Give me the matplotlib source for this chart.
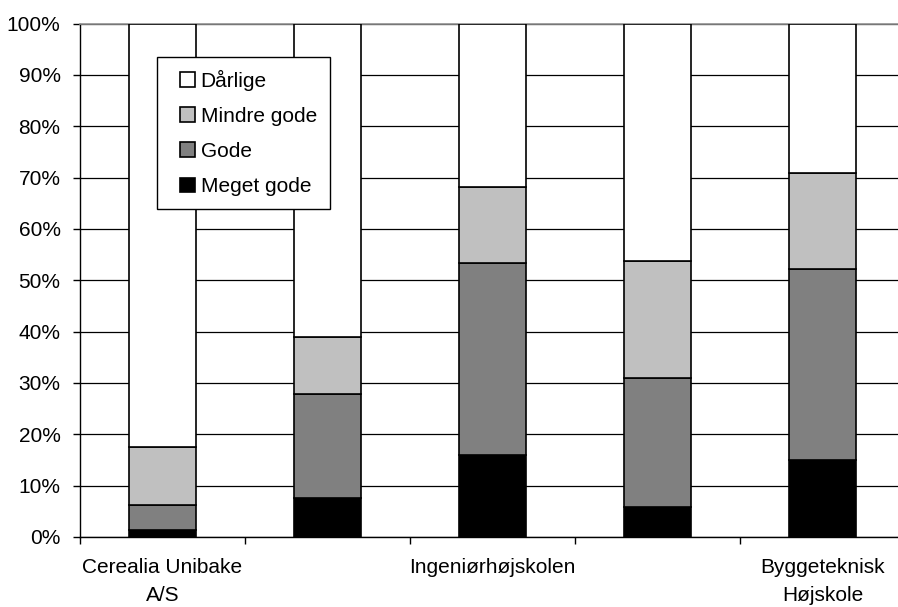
import matplotlib.pyplot as plt
import numpy as np
from matplotlib.legend_handler import HandlerPatch
from matplotlib.patches import Rectangle

plt.rcParams['font.family'] = ['Liberation Sans', 'DejaVu Sans']

# Categories (labels for 2nd and 4th are not shown on the axis)
categories = ['Cerealia Unibake\nA/S', '', 'Ingeniørhøjskolen', '', 'Byggeteknisk\nHøjskole']

# Shares in percent per group
meget_gode = [1.3, 7.5, 16.0, 5.9, 14.9]
gode = [4.9, 20.4, 37.3, 25.1, 37.2]
mindre_gode = [11.3, 11.0, 14.8, 22.7, 18.7]
darlige = [82.5, 61.1, 31.9, 46.3, 29.2]

series = [
    ('Meget gode', meget_gode, '#000000'),
    ('Gode', gode, '#808080'),
    ('Mindre gode', mindre_gode, '#c0c0c0'),
    ('Dårlige', darlige, '#ffffff'),
]

FS = 15

fig = plt.figure(figsize=(8.98, 6.07), dpi=100)
ax = fig.add_axes([80 / 898, 70 / 607, 825 / 898, 513.5 / 607])

x = np.arange(len(categories))
bottom = np.zeros(len(categories))
handles = {}
for name, vals, col in series:
    bars = ax.bar(x, vals, width=0.41, bottom=bottom, color=col,
                  edgecolor='black', linewidth=1.2, zorder=3, label=name)
    handles[name] = bars
    bottom += np.array(vals)

ax.set_xlim(-0.5, len(categories) - 0.5)
ax.set_ylim(0, 100)

# y axis
ax.set_yticks(range(0, 101, 10))
ax.set_yticklabels([f'{v}%' for v in range(0, 101, 10)], fontsize=FS)
ax.yaxis.grid(True, color='black', linewidth=0.9, zorder=0)
ax.set_axisbelow(True)

# x axis: ticks on category boundaries, labels at centres
ax.set_xticks(np.arange(len(categories) + 1) - 0.5)
ax.set_xticklabels([])
ax.set_xticks(x, minor=True)
ax.set_xticklabels(categories, minor=True, fontsize=FS, linespacing=1.6)
ax.tick_params(axis='x', which='minor', length=0, pad=15)
ax.tick_params(axis='x', which='major', length=5, width=1, color='black')
ax.tick_params(axis='y', length=5, width=1, color='black', pad=9)

for side in ['left', 'bottom']:
    ax.spines[side].set_color('black')
    ax.spines[side].set_linewidth(1)
ax.spines['top'].set_color('#909090')
ax.spines['top'].set_linewidth(1.2)
ax.spines['right'].set_visible(False)


# square legend keys pushed to the right side of the handle box
def square_key(legend, orig_handle, xdescent, ydescent, width, height, fontsize):
    return Rectangle((-xdescent + width - height, -ydescent), height, height)


order = ['Dårlige', 'Mindre gode', 'Gode', 'Meget gode']
leg = ax.legend([handles[n][0] for n in order], order, loc='upper left',
                bbox_to_anchor=(157 / 898, 1 - 57 / 607), bbox_transform=fig.transFigure,
                fontsize=FS, frameon=True, fancybox=False, framealpha=1,
                edgecolor='black', handlelength=1.2, handleheight=0.72,
                handletextpad=0.3, labelspacing=0.78, borderpad=0.6, borderaxespad=0,
                handler_map={Rectangle: HandlerPatch(patch_func=square_key)})
leg.get_frame().set_linewidth(1)
leg.set_zorder(5)

fig.savefig('out.png', dpi=100)
